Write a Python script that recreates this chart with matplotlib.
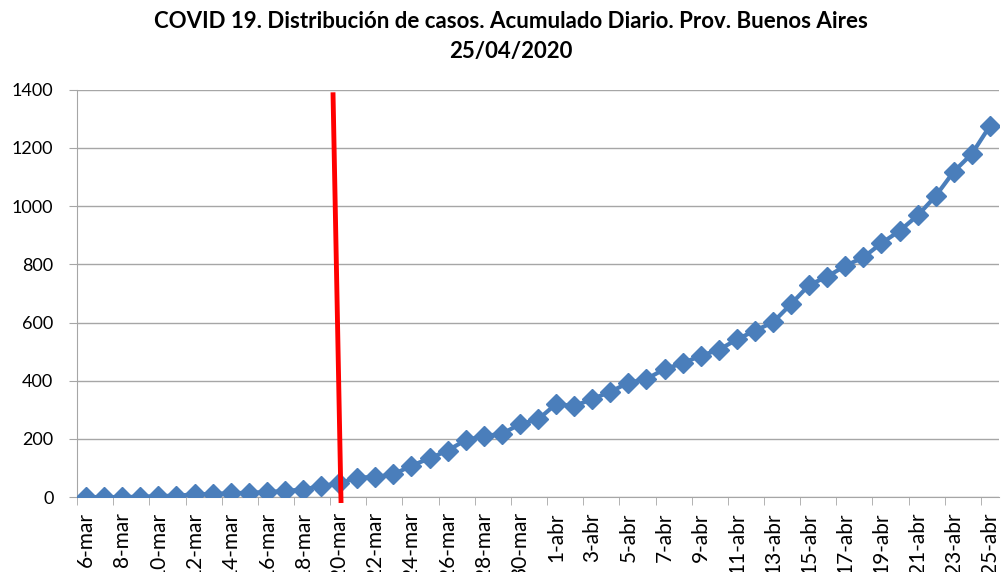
import numpy as np
import matplotlib
matplotlib.use("Agg")
import matplotlib.pyplot as plt

plt.rcParams['font.family'] = ['Lato', 'DejaVu Sans']

fechas = [f"{d}-mar" for d in range(6, 32)] + [f"{d}-abr" for d in range(1, 26)]
casos = [0, 0, 0, 1, 3, 5, 9, 11, 13, 15, 17, 21, 26, 38, 47, 67, 69, 78, 108, 133,
         160, 196, 210, 217, 251, 267,
         320, 313, 337, 362, 393, 406, 440, 460, 486, 506, 542, 572, 601, 664, 729,
         758, 795, 824, 873, 915, 968, 1035, 1119, 1180, 1276]

# linea roja (inicio aislamiento)
roja_x = [13.66, 14.1]
roja_y = [1383, -12]

fig = plt.figure(figsize=(10.01, 5.72), dpi=100)
ax = fig.add_axes([0.077, 0.131, 0.921, 0.712])

x = np.arange(len(casos))
ax.plot(x, casos, color='#4A7EBB', lw=3, marker='D', markersize=10, zorder=3)
ax.plot(roja_x, roja_y, color='#FF0000', lw=3.5, zorder=4, clip_on=False)

ax.set_xlim(-0.5, len(casos) - 0.5)
ax.set_ylim(0, 1400)
ax.set_yticks(range(0, 1401, 200))
ax.yaxis.grid(True, color='#A6A6A6', lw=1)
ax.set_axisbelow(True)

ax.set_xticks(x[::2])
ax.set_xticklabels(fechas[::2], rotation=90, va='top', ha='center')
ax.set_xticks(np.arange(-0.5, len(casos), 2), minor=True)
ax.tick_params(axis='x', which='major', length=0, pad=11, labelsize=15)
ax.tick_params(axis='x', which='minor', length=6, color='#A6A6A6')
ax.tick_params(axis='y', length=6, color='#A6A6A6', labelsize=13, pad=11)

for s in ['top', 'right']:
    ax.spines[s].set_visible(False)
for s in ['left', 'bottom']:
    ax.spines[s].set_color('#A6A6A6')

fig.text(0.51, 0.962, "COVID 19. Distribución de casos. Acumulado Diario. Prov. Buenos Aires",
         ha='center', va='center', fontsize=16, fontweight='bold')
fig.text(0.51, 0.91, "25/04/2020", ha='center', va='center', fontsize=16, fontweight='bold')

fig.savefig("out.png", dpi=100)
